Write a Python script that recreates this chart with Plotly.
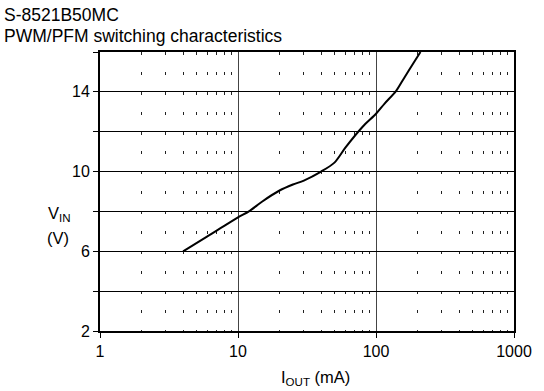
import plotly.graph_objects as go

# PWM/PFM switching boundary
iout_ma = [4, 6, 10, 12, 15, 20, 25, 30, 40, 50, 60, 80, 100, 115, 140, 160, 185, 210]
vin_v = [6.0, 6.75, 7.7, 8.0, 8.5, 9.05, 9.35, 9.55, 10.0, 10.45, 11.2, 12.25, 12.9, 13.4, 14.05, 14.7, 15.4, 16.0]

x_ticks = [1, 10, 100, 1000]
x_labels = ["1", "10", "100", "1000"]
x_minor = [m * d for d in (1, 10, 100) for m in range(2, 10)]
y_ticks = [2, 4, 6, 8, 10, 12, 14, 16]
y_labels = ["2", "", "6", "", "10", "", "14", ""]

font = "Liberation Sans, Arial, sans-serif"

L, R, T, B = 100, 27, 52, 60
W, H = 544, 391

fig = go.Figure(go.Scatter(
    x=iout_ma, y=vin_v, mode="lines",
    line=dict(color="black", width=2, shape="spline", smoothing=0.8),
    hoverinfo="skip", showlegend=False
))

fig.update_xaxes(
    type="log", range=[0, 3],
    tickvals=x_ticks, ticktext=x_labels,
    showgrid=True, gridcolor="#444", gridwidth=1,
    minor=dict(tickmode="array", tickvals=x_minor, showgrid=True,
               gridcolor="#222", gridwidth=1,
               griddash="3px,16.875px", ticks=""),
    showline=True, linecolor="black", linewidth=2, mirror=True,
    ticks="outside", ticklen=5, tickcolor="black", zeroline=False,
    tickfont=dict(family=font, size=16, color="black"),
)
fig.update_yaxes(
    range=[2, 16], tickvals=y_ticks, ticktext=y_labels,
    showgrid=True, gridcolor="black", gridwidth=1,
    showline=True, linecolor="black", linewidth=2, mirror=True,
    ticks="outside", ticklen=5, tickcolor="black", zeroline=False,
    tickfont=dict(family=font, size=16, color="black"),
)


def px(x, y):
    # pixel position on the page -> paper coords
    return (x - L) / (W - L - R), 1 - (y - T) / (H - T - B)


def note(text, x, y, size, anchor="center"):
    ax, ay = px(x, y)
    return dict(text=text, x=ax, y=ay, xref="paper", yref="paper",
                xanchor=anchor, yanchor="middle", showarrow=False,
                font=dict(family=font, size=size, color="black"))


fig.update_layout(
    width=W, height=H,
    margin=dict(l=L, r=R, t=T, b=B),
    paper_bgcolor="white", plot_bgcolor="white",
    font=dict(family=font, size=16, color="black"),
    annotations=[
        note("S-8521B50MC", 1, 15, 17.5, "left"),
        note("PWM/PFM switching characteristics", 1, 36, 17.5, "left"),
        note("V<sub>IN</sub>", 59, 214, 16.5),
        note("(V)", 58, 238, 16.5),
        note("I<sub>OUT</sub> (mA)", 317, 378, 16.5),
    ],
)

fig.write_html("out.html", config={"displayModeBar": False},
               post_script="document.body.style.margin='0px';")
